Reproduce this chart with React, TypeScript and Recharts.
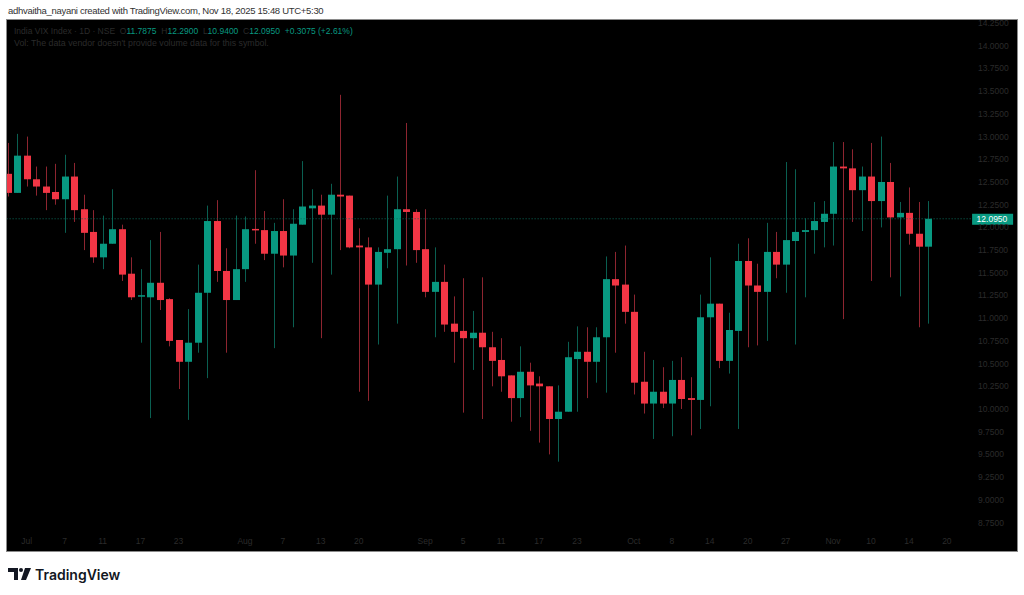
import { ComposedChart, Bar, XAxis, YAxis, ReferenceLine } from "recharts"

// India VIX daily candles, Jun 27 – Nov 18 2025
const dates = [
  "2025-06-27", "2025-06-30", "2025-07-01", "2025-07-02", "2025-07-03", "2025-07-04", "2025-07-07", "2025-07-08",
  "2025-07-09", "2025-07-10", "2025-07-11", "2025-07-14", "2025-07-15", "2025-07-16", "2025-07-17", "2025-07-18",
  "2025-07-21", "2025-07-22", "2025-07-23", "2025-07-24", "2025-07-25", "2025-07-28", "2025-07-29", "2025-07-30",
  "2025-07-31", "2025-08-01", "2025-08-04", "2025-08-05", "2025-08-06", "2025-08-07", "2025-08-08", "2025-08-11",
  "2025-08-12", "2025-08-13", "2025-08-14", "2025-08-18", "2025-08-19", "2025-08-20", "2025-08-21", "2025-08-22",
  "2025-08-25", "2025-08-26", "2025-08-28", "2025-08-29", "2025-09-01", "2025-09-02", "2025-09-03", "2025-09-04",
  "2025-09-05", "2025-09-08", "2025-09-09", "2025-09-10", "2025-09-11", "2025-09-12", "2025-09-15", "2025-09-16",
  "2025-09-17", "2025-09-18", "2025-09-19", "2025-09-22", "2025-09-23", "2025-09-24", "2025-09-25", "2025-09-26",
  "2025-09-29", "2025-09-30", "2025-10-01", "2025-10-03", "2025-10-06", "2025-10-07", "2025-10-08", "2025-10-09",
  "2025-10-10", "2025-10-13", "2025-10-14", "2025-10-15", "2025-10-16", "2025-10-17", "2025-10-20", "2025-10-21",
  "2025-10-23", "2025-10-24", "2025-10-27", "2025-10-28", "2025-10-29", "2025-10-30", "2025-10-31", "2025-11-03",
  "2025-11-04", "2025-11-06", "2025-11-07", "2025-11-10", "2025-11-11", "2025-11-12", "2025-11-13", "2025-11-14",
  "2025-11-17", "2025-11-18",
]
const opens = [
  12.59, 12.38, 12.79, 12.53, 12.45, 12.39, 12.31, 12.56, 12.2, 11.95, 11.67, 11.82, 11.98, 11.49, 11.24, 11.23,
  11.39, 11.21, 10.76, 10.52, 10.73, 11.28, 12.07, 11.52, 11.2, 11.54, 11.98, 11.97, 11.71, 11.96, 11.69, 12.03,
  12.21, 12.24, 12.14, 12.36, 12.35, 11.8, 11.78, 11.37, 11.72, 11.76, 12.2, 12.17, 11.76, 11.29, 11.4, 10.94,
  10.86, 10.78, 10.84, 10.68, 10.54, 10.37, 10.12, 10.41, 10.28, 10.25, 9.89, 9.97, 10.55, 10.63, 10.52, 10.79,
  11.43, 11.37, 11.07, 10.3, 10.06, 10.19, 10.06, 10.32, 10.12, 10.1, 11.01, 11.16, 10.53, 10.86, 11.63, 11.36,
  11.29, 11.73, 11.59, 11.85, 11.95, 11.97, 12.06, 12.15, 12.67, 12.65, 12.41, 12.56, 12.29, 12.5, 12.11, 12.16,
  11.93, 11.7875,
]
const highs = [
  12.93, 13.03, 13.0, 12.67, 12.67, 12.7, 12.8, 12.71, 12.36, 12.19, 12.13, 12.42, 12.03, 11.67, 11.54, 11.86,
  11.95, 11.22, 10.76, 11.1, 11.59, 12.24, 12.3, 11.77, 12.13, 12.12, 12.63, 12.18, 12.05, 12.31, 12.2, 12.73,
  12.42, 12.36, 12.48, 13.46, 12.35, 11.99, 11.89, 11.78, 12.35, 12.56, 13.15, 12.2, 12.2, 11.78, 11.59, 11.24,
  11.44, 11.08, 11.45, 10.85, 10.78, 10.37, 10.69, 10.51, 10.36, 10.25, 10.26, 10.74, 10.91, 10.9, 10.9, 11.68,
  11.73, 11.8, 11.26, 10.63, 10.54, 10.46, 10.53, 10.57, 10.35, 11.26, 11.67, 11.16, 11.06, 11.82, 11.88, 11.6,
  12.05, 11.95, 12.72, 12.64, 12.1, 12.28, 12.29, 12.94, 12.94, 12.86, 12.67, 12.93, 13.0, 12.71, 12.28, 12.44,
  12.28, 12.29,
]
const lows = [
  12.34, 12.38, 12.45, 12.35, 12.19, 12.25, 11.94, 12.06, 11.75, 11.61, 11.54, 11.82, 11.41, 11.2, 10.73, 9.9,
  11.09, 10.69, 10.22, 9.88, 10.62, 10.34, 11.4, 10.62, 11.2, 11.4, 11.82, 11.64, 10.67, 11.56, 10.9, 12.03,
  11.61, 10.78, 11.48, 11.75, 11.77, 10.19, 10.09, 10.71, 11.55, 10.94, 11.58, 11.61, 11.23, 10.79, 10.85, 10.51,
  9.96, 10.43, 9.89, 10.25, 10.19, 9.86, 9.91, 9.76, 9.63, 9.5, 9.42, 9.97, 9.97, 10.12, 10.29, 10.18,
  10.62, 10.94, 10.16, 9.95, 9.67, 10.01, 9.7, 10.0, 9.71, 9.78, 10.03, 10.45, 10.39, 9.78, 10.68, 10.7,
  10.75, 11.44, 11.28, 10.71, 11.23, 11.71, 11.78, 11.8, 10.99, 12.06, 11.96, 11.41, 12.0, 11.45, 11.24, 11.81,
  10.9, 10.94,
]
const closes = [
  12.38, 12.79, 12.53, 12.45, 12.38, 12.31, 12.56, 12.19, 11.94, 11.67, 11.82, 11.98, 11.48, 11.23, 11.25, 11.39,
  11.2, 10.75, 10.52, 10.73, 11.28, 12.07, 11.52, 11.2, 11.54, 11.98, 11.97, 11.71, 11.96, 11.69, 12.04, 12.23,
  12.24, 12.14, 12.36, 12.34, 11.78, 11.78, 11.37, 11.73, 11.76, 12.2, 12.17, 11.75, 11.29, 11.4, 10.93, 10.85,
  10.78, 10.84, 10.68, 10.53, 10.36, 10.12, 10.41, 10.26, 10.25, 9.89, 9.97, 10.57, 10.63, 10.52, 10.79, 11.43,
  11.36, 11.07, 10.29, 10.06, 10.19, 10.06, 10.32, 10.11, 10.1, 11.01, 11.16, 10.53, 10.87, 11.63, 11.36, 11.29,
  11.73, 11.59, 11.86, 11.95, 11.97, 12.07, 12.15, 12.67, 12.65, 12.41, 12.56, 12.29, 12.5, 12.11, 12.16, 11.93,
  11.7875, 12.095,
]
// empty slots to the right of the last candle
const futureDates = ["2025-11-19", "2025-11-20", "2025-11-21", "2025-11-24"]

const xTickDates = [
  "2025-07-01", "2025-07-07", "2025-07-11", "2025-07-17", "2025-07-23", "2025-08-01", "2025-08-07", "2025-08-13",
  "2025-08-20", "2025-09-01", "2025-09-05", "2025-09-11", "2025-09-17", "2025-09-23", "2025-10-01", "2025-10-08",
  "2025-10-14", "2025-10-20", "2025-10-27", "2025-11-03", "2025-11-10", "2025-11-14", "2025-11-20",
]
const xTickLabels = [
  "Jul", "7", "11", "17", "23", "Aug", "7", "13", "20", "Sep", "5", "11", "17", "23", "Oct", "8", "14", "20", "27",
  "Nov", "10", "14", "20",
]
const yTicks = [
  8.75, 9, 9.25, 9.5, 9.75, 10, 10.25, 10.5, 10.75, 11, 11.25, 11.5, 11.75, 12, 12.25, 12.5, 12.75, 13, 13.25, 13.5,
  13.75, 14, 14.25,
]
const lastPrice = 12.095

const UP = "#089981"
const DOWN = "#f23645"
const UP_WICK = "#0a5f51"
const DOWN_WICK = "#8e2530"
const DIM = "#2b2b2b"
const FONT = "'Liberation Sans', Arial, sans-serif"

const rows = [
  ...dates.map((d, i) => ({
    d,
    o: opens[i],
    h: highs[i],
    l: lows[i],
    c: closes[i],
    range: [lows[i], highs[i]],
  })),
  ...futureDates.map((d) => ({ d, o: null, h: null, l: null, c: null, range: null })),
]

function Candle(props: any) {
  const { x, y, width, height, payload } = props
  if (!payload || payload.o == null) return null
  const top = Math.min(y, y + height)
  const bot = Math.max(y, y + height)
  const span = payload.h - payload.l
  const toY = (v: number) => top + ((payload.h - v) / span) * (bot - top)
  const up = payload.c >= payload.o
  const cx = Math.round(x + width / 2) + 0.5
  const yo = toY(payload.o)
  const yc = toY(payload.c)
  let bTop = Math.min(yo, yc)
  let bH = Math.abs(yo - yc)
  if (bH < 1.5) {
    bTop -= (1.5 - bH) / 2
    bH = 1.5
  }
  return (
    <g>
      <line x1={cx} x2={cx} y1={top} y2={bot} stroke={up ? UP_WICK : DOWN_WICK} strokeWidth={1} />
      <rect x={cx - 3.5} y={bTop} width={7} height={bH} fill={up ? UP : DOWN} />
    </g>
  )
}

function XTick(props: any) {
  const { x, payload } = props
  const i = xTickDates.indexOf(payload.value)
  return (
    <text x={x} y={544} textAnchor="middle" fontSize={8.5} fontFamily={FONT} fill={DIM}>
      {i >= 0 ? xTickLabels[i] : ""}
    </text>
  )
}

function YTick(props: any) {
  const { y, payload } = props
  return (
    <text x={978} y={y + 3} fontSize={8.5} fontFamily={FONT} fill={DIM}>
      {Number(payload.value).toFixed(4)}
    </text>
  )
}

function PriceTag(props: any) {
  const vb = props.viewBox || {}
  const right = (vb.x || 0) + (vb.width || 0)
  const y = vb.y || 0
  return (
    <g>
      <rect x={right + 1.5} y={y - 5} width={41} height={11} fill={UP} />
      <text x={right + 6} y={y + 3.5} fontSize={8.5} fontFamily={FONT} fill="#ffffff">
        {lastPrice.toFixed(4)}
      </text>
    </g>
  )
}

export default function App() {
  return (
    <div style={{ position: "fixed", left: 0, top: 0, width: 1024, height: 595, background: "#fff", fontFamily: FONT }}>
      <div
        style={{
          position: "absolute",
          left: 8,
          top: 5,
          fontSize: 9.5,
          letterSpacing: -0.3,
          lineHeight: "12px",
          color: "#333",
          whiteSpace: "nowrap",
        }}
      >
        adhvaitha_nayani created with TradingView.com, Nov 18, 2025 15:48 UTC+5:30
      </div>

      <div style={{ position: "absolute", left: 6, top: 19, width: 1012, height: 533, boxSizing: "border-box", border: "1px solid #8a8a8a", background: "#000" }} />
      <div style={{ position: "absolute", left: 7, top: 20, width: 1010, height: 531, overflow: "hidden" }}>
        <div style={{ position: "absolute", left: -7, top: -20 }}>
          <ComposedChart
            width={1024}
            height={560}
            data={rows}
            margin={{ top: 21, right: 7.4, bottom: 9, left: 3.06 }}
            barCategoryGap="10%"
          >
            <XAxis
              dataKey="d"
              type="category"
              ticks={xTickDates}
              interval={0}
              axisLine={false}
              tickLine={false}
              height={20}
              tick={<XTick />}
            />
            <YAxis
              orientation="right"
              type="number"
              domain={[8.6564, 14.273]}
              allowDataOverflow
              ticks={yTicks}
              interval={0}
              axisLine={false}
              tickLine={false}
              width={46}
              tick={<YTick />}
            />
            <ReferenceLine y={lastPrice} stroke="#0b6b5a" strokeDasharray="1 2" label={<PriceTag />} />
            <Bar dataKey="range" shape={<Candle />} isAnimationActive={false} />
          </ComposedChart>
        </div>

        <div style={{ position: "absolute", left: 7, top: 5, fontSize: 8.5, lineHeight: "12px", whiteSpace: "nowrap", color: DIM }}>
          <div>
            India VIX Index · 1D · NSE&nbsp;&nbsp;O<span style={{ color: UP }}>11.7875</span>&nbsp;&nbsp;H
            <span style={{ color: UP }}>12.2900</span>&nbsp;&nbsp;L<span style={{ color: UP }}>10.9400</span>&nbsp;&nbsp;C
            <span style={{ color: UP }}>12.0950</span>&nbsp;&nbsp;<span style={{ color: UP }}>+0.3075 (+2.61%)</span>
          </div>
          <div style={{ fontSize: 8.8 }}>Vol: The data vendor doesn't provide volume data for this symbol.</div>
        </div>
      </div>

      <svg style={{ position: "absolute", left: 0, top: 560 }} width={140} height={30}>
        <path d="M8 8 H18 V20 H14 V12 H8 Z" fill="#131722" />
        <circle cx={21} cy={10} r={2} fill="#131722" />
        <path d="M25 8 H31 L26 20 H21 Z" fill="#131722" />
        <text x={35} y={19.5} fontSize={14} fontWeight={600} fontFamily="Inter, Roboto, sans-serif" fill="#131722">
          TradingView
        </text>
      </svg>
    </div>
  )
}
